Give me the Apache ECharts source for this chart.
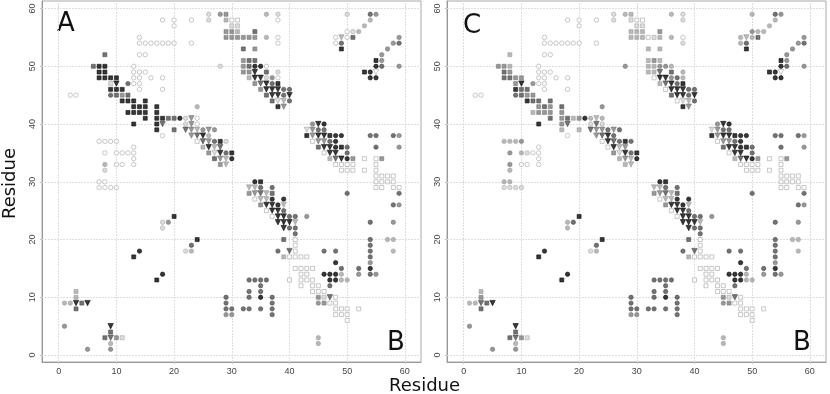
<!DOCTYPE html>
<html>
<head>
<meta charset="utf-8">
<style>
  html, body { margin: 0; padding: 0; background: #fff; }
  #chart { width: 830px; height: 394px; }
</style>
<script src="https://cdn.jsdelivr.net/npm/echarts@6/dist/echarts.min.js"></script>
</head>
<body>
<div id="chart"></div>
<script>
// tone codes: black, dark, mid, light, pale, open
const K = 0, D = 1, M = 2, L = 3, P = 4, O = 5
const tickValues = [0, 10, 20, 30, 40, 50, 60]

// upper triangle: [x, y, tone in A, tone in C]
const upperCircles = [
  [26,59,P,P],[28,59,M,L],[36,59,L,L],[38,59,P,P],[50,59,P,L],[54,59,D,D],[55,59,M,M],
  [18,58,O,O],[20,58,O,O],[23,58,O,O],[26,58,P,P],[38,58,O,P],[54,58,L,L],
  [20,57,O,O],[53,57,L,L],
  [50,56,O,M],[51,56,P,L],[52,56,L,L],
  [14,55,O,O],[36,55,L,L],[38,55,O,O],[48,55,O,L],[50,55,O,L],[59,55,M,M],
  [14,54,O,O],[15,54,O,O],[16,54,O,O],[17,54,O,O],[18,54,O,O],[19,54,O,O],[20,54,O,O],[23,54,O,O],
  [38,54,O,P],[48,54,O,L],[49,54,D,D],[58,54,M,M],[59,54,D,D],
  [57,53,M,M],
  [14,52,O,O],[15,52,O,O],[56,52,M,M],
  [56,51,M,M],
  [13,50,O,O],[28,50,P,M],[34,50,K,M],[35,50,K,M],[36,50,O,L],[55,50,K,K],[56,50,D,D],[59,50,M,M],
  [13,49,O,O],[14,49,O,O],[15,49,O,O],[38,49,P,L],[54,49,K,K],
  [13,48,O,O],[14,48,O,O],[16,48,O,O],[18,48,O,O],[36,48,P,M],[37,48,M,D],[38,48,O,L],[54,48,K,K],[55,48,K,K],
  [12,47,D,M],[13,47,O,O],[14,47,O,O],[37,47,D,D],
  [14,46,O,O],[18,46,O,O],[39,46,D,D],[40,46,D,D],
  [2,45,O,O],[3,45,O,O],[9,45,D,D],[39,45,D,D],
  [40,44,D,D],
  [24,43,L,M],
  [21,41,K,K],[22,41,P,L],[24,41,O,L],
  [22,40,P,P],[24,40,O,P],
  [25,39,M,D],[27,39,M,D],
  [18,38,O,O],[26,38,L,D],
  [7,37,O,L],[8,37,O,L],[9,37,O,L],[10,37,O,M],[27,37,D,D],[29,37,P,D],
  [13,36,O,O],
  [8,35,O,M],[10,35,O,L],[11,35,O,P],[12,35,O,O],[13,35,O,O],[29,35,D,D],
  [13,34,O,O],[30,34,K,K],
  [8,33,L,M],[10,33,O,O],[11,33,O,O],[13,33,O,O],
  [8,32,P,L],
  [7,30,O,L],[8,30,O,L],
  [7,29,O,P],[8,29,O,P],[9,29,O,P],[10,29,O,P],
  [18,23,P,L],[19,23,M,D],[18,22,P,L],[14,18,K,K],
  [1,9,L,L],[2,9,L,L],[1,5,M,M]
]
const upperSquares = [
  [29,59,M,L],[29,58,L,P],[30,58,O,O],[31,58,O,O],[30,57,P,P],[31,57,P,P],
  [29,56,M,L],[30,56,M,L],[31,56,L,L],[34,56,D,M],
  [29,55,M,L],[30,55,M,L],[31,55,M,L],[32,55,M,O],[33,55,M,P],[34,55,M,L],[51,55,D,D],
  [32,53,D,L],[34,53,M,L],[49,53,K,K],
  [8,52,D,L],
  [32,51,M,L],[33,51,D,M],[34,51,D,L],[55,51,K,K],
  [6,50,D,M],[7,50,K,M],[8,50,K,L],[32,50,M,L],[33,50,D,L],
  [7,49,K,D],[8,49,K,M],[32,49,M,L],[33,49,M,L],[36,49,D,D],[53,49,K,K],
  [7,48,K,D],[8,48,K,D],[9,48,K,M],[10,48,K,M],[33,48,L,O],
  [9,47,P,M],[34,47,M,L],[38,47,K,K],
  [9,46,K,K],[10,46,K,D],[11,46,K,D],[35,46,M,O],
  [10,45,D,D],[11,45,M,M],[12,45,D,M],[36,45,D,D],
  [11,44,K,K],[12,44,K,D],[13,44,K,D],[15,44,K,D],[37,44,D,O],
  [13,43,K,M],[14,43,K,D],[15,43,K,M],[17,43,K,D],[38,43,K,K],
  [12,42,K,L],[13,42,K,M],[14,42,K,M],[15,42,K,M],[17,42,K,M],
  [15,41,K,D],[17,41,K,M],[18,41,K,D],[19,41,D,L],[20,41,D,M],
  [13,40,K,K],[17,40,K,M],
  [17,39,K,L],[20,39,D,L],
  [24,37,O,O],[28,37,K,K],[25,36,L,O],[26,35,M,M],[30,35,K,K],[27,34,D,L],[28,33,M,L],
  [20,24,K,K],[13,17,K,K],[3,11,L,L],[3,10,L,M],[4,9,D,D],[3,8,D,D]
]
const upperTriangles = [
  [10,47,K,K],[18,40,D,D],[23,41,M,L],[23,40,M,D],
  [22,39,D,D],[23,39,M,M],[24,39,L,M],[26,39,M,M],
  [23,38,M,M],[24,38,D,D],[25,38,K,K],
  [25,37,D,K],[26,37,M,D],
  [26,36,K,K],[27,36,L,L],[28,36,D,M],
  [27,35,P,P],[28,35,K,K],[28,34,M,M],[29,34,L,L],[29,33,L,L],
  [49,55,L,L],[55,49,O,O],
  [34,49,K,D],[34,48,K,K],[35,48,K,K],[35,47,D,D],[36,47,K,K],[36,46,K,K],[37,46,K,K],[38,46,K,K],
  [37,45,K,K],[38,45,K,K],[40,45,K,K],[38,44,P,P],[39,44,L,L],[39,43,M,M],
  [3,9,K,D],[5,9,K,K]
]

// lower triangle, the same in both panels: [x, y, tone]
const lowerCircles = [
  [44,40,M],[46,40,K],[45,39,D],[46,39,D],
  [48,38,K],[49,38,K],[54,38,D],[55,38,D],[58,38,D],[59,38,M],
  [47,37,D],[48,37,K],
  [48,36,K],[50,36,D],[55,36,D],[59,36,M],
  [50,35,D],[50,34,K],[34,30,K],
  [35,29,D],[37,29,D],[50,28,D],[59,28,D],
  [37,27,K],[39,27,K],[38,26,K],[58,26,D],[59,26,M],[39,25,D],
  [40,24,D],[41,24,D],[43,24,M],[54,23,D],[58,23,M],
  [40,22,D],[41,22,D],[41,21,D],
  [54,20,D],[57,20,L],[58,20,L],
  [54,19,D],[23,19,D],
  [38,18,D],[46,18,D],[48,18,D],[54,18,D],[58,18,L],[22,18,P],[23,18,L],
  [54,17,D],[48,16,K],[54,16,M],
  [49,15,D],[52,15,D],[54,15,K],
  [46,14,K],[47,14,K],[48,14,K],[49,14,L],[52,14,M],[54,14,D],[55,14,M],[18,14,K],
  [33,13,D],[34,13,D],[35,13,D],[36,13,D],[47,13,K],[48,13,K],[49,13,L],[50,13,L],
  [35,12,D],[47,12,D],[33,11,D],[35,11,D],
  [29,10,D],[33,10,D],[35,10,K],[37,10,D],
  [29,9,D],[37,9,D],[45,9,M],
  [29,8,D],[30,8,D],[32,8,D],[33,8,D],[35,8,D],[37,8,D],
  [29,7,M],[30,7,M],[37,7,D],
  [45,3,L],[45,2,L],[9,2,L],[5,1,M],[9,1,M]
]
const lowerSquares = [
  [43,38,K],[47,38,K],[44,37,O],[45,36,D],[49,36,K],[46,35,O],
  [47,34,L],[51,34,M],[53,34,O],[55,34,O],[56,34,M],
  [48,33,O],[49,33,O],[50,33,O],[51,33,O],[55,33,O],
  [49,32,O],[50,32,O],[51,32,O],[53,32,O],[55,32,O],
  [55,31,O],[56,31,O],[57,31,O],[58,31,O],
  [35,30,K],[55,30,O],[56,30,O],[57,30,O],[58,30,O],
  [55,29,O],[56,29,O],[58,29,O],[59,29,O],
  [33,28,M],[37,28,D],[34,27,O],[35,26,M],[36,25,O],[37,24,O],
  [24,20,K],[39,20,D],[41,20,O],[41,19,O],[41,18,O],
  [39,17,L],[40,17,O],[41,17,O],[42,17,O],[43,17,O],
  [41,15,O],[42,15,O],[43,15,O],[44,15,O],[42,14,O],[43,14,O],
  [17,13,K],[40,13,O],[42,13,O],[43,13,O],[44,13,O],
  [42,12,O],[44,12,O],[45,12,O],[44,11,O],[45,11,O],[46,11,O],
  [45,10,M],[46,10,P],[48,10,O],[46,9,M],[47,9,O],[48,9,O],
  [48,8,O],[49,8,O],[50,8,O],[52,8,O],[48,7,O],[49,7,O],[50,7,O],[50,6,O],
  [9,4,D],[8,3,D],[10,3,M],[11,3,P]
]
const lowerTriangles = [
  [45,40,K],[43,39,P],[44,39,M],[44,38,M],[45,38,K],[46,38,K],[45,37,M],[46,37,M],
  [46,36,K],[47,36,K],[47,35,K],[48,35,K],[48,34,D],[49,34,K],
  [33,29,L],[34,29,L],[34,28,M],[35,28,D],[36,28,L],[35,27,L],[36,27,L],
  [36,26,K],[37,26,K],[39,26,L],[37,25,K],[38,25,K],[38,24,K],[39,24,K],
  [38,23,K],[39,23,K],[40,23,K],[41,23,L],[39,22,K],[40,18,D],[47,10,D],[9,5,K],[9,3,D]
]

const toneFill = ['#050505', '#505050', '#7e7e7e', '#a6a6a6', '#d6d6d6', '#ffffff']
const toneBorder = ['#050505', '#484848', '#747474', '#9a9a9a', '#a4a4a4', '#9c9c9c']

function marks(upper, lower, col) {
  const rows = upper.map(d => [d[0], d[1], d[col]]).concat(lower)
  return rows.map(d => ({
    value: [d[0], d[1]],
    itemStyle: { color: toneFill[d[2]], borderColor: toneBorder[d[2]], borderWidth: 0.7 }
  }))
}

const myChart = echarts.init(document.getElementById('chart'))

const gridRects = [
  { left: 42, width: 379, top: 1, height: 361, show: true, borderColor: '#a8a8a8', borderWidth: 1 },
  { left: 447, width: 379, top: 1, height: 361, show: true, borderColor: '#a8a8a8', borderWidth: 1 }
]
const axisLineStyle = { color: '#989898', width: 1 }
const tickStyle = { show: true, length: 2, customValues: tickValues, lineStyle: { color: '#c0c0c0' } }
const labelFont = { fontFamily: 'Liberation Sans', fontSize: 9, color: '#444' }

const xAxes = gridRects.map((g, i) => ({
  type: 'value', gridIndex: i, min: -2.9, max: 62.8,
  axisLine: { show: true, lineStyle: axisLineStyle, onZero: false },
  axisTick: tickStyle,
  splitLine: { show: false },
  axisLabel: { ...labelFont, margin: 5, customValues: tickValues }
}))
const yAxes = gridRects.map((g, i) => ({
  type: 'value', gridIndex: i, min: -1.2, max: 61.3,
  axisLine: { show: true, lineStyle: axisLineStyle, onZero: false },
  axisTick: tickStyle,
  splitLine: { show: false },
  axisLabel: { ...labelFont, rotate: 90, margin: 5, customValues: tickValues }
}))

const series = []
gridRects.forEach((g, i) => {
  const col = i === 0 ? 2 : 3
  // grid lines sit on an empty series so they stay on the axis scale
  series.push({
    type: 'scatter', xAxisIndex: i, yAxisIndex: i, data: [], silent: true, z: 1,
    markLine: {
      z: 1, silent: true, symbol: 'none', animation: false, label: { show: false },
      lineStyle: { color: '#dedede', type: [2, 1], width: 1 },
      data: tickValues.map(v => ({ xAxis: v })).concat(tickValues.map(v => ({ yAxis: v })))
    }
  })
  series.push({
    type: 'scatter', xAxisIndex: i, yAxisIndex: i, z: 3, animation: false,
    symbol: 'circle', symbolSize: 4.4,
    data: marks(upperCircles, lowerCircles, col)
  })
  series.push({
    type: 'scatter', xAxisIndex: i, yAxisIndex: i, z: 3, animation: false,
    symbol: 'rect', symbolSize: 4,
    data: marks(upperSquares, lowerSquares, col)
  })
  series.push({
    type: 'scatter', xAxisIndex: i, yAxisIndex: i, z: 3, animation: false,
    symbol: 'triangle', symbolRotate: 180, symbolSize: 5.4,
    data: marks(upperTriangles, lowerTriangles, col)
  })
})

const bigText = (text, x, y, size, rotation) => ({
  type: 'text', left: x, top: y, rotation: rotation || 0,
  style: { text, font: size + 'px "DejaVu Sans"', fill: '#111' }
})

const option = {
  backgroundColor: '#fff',
  animation: false,
  grid: gridRects,
  xAxis: xAxes,
  yAxis: yAxes,
  series,
  graphic: [
    bigText('A', 57, 11, 26),
    bigText('C', 463, 13, 26),
    bigText('B', 387, 330, 26),
    bigText('B', 793, 330, 26),
    bigText('Residue', 389, 377, 18),
    bigText('Residue', 1, 148, 18, Math.PI / 2)
  ]
}
myChart.setOption(option)
</script>
</body>
</html>
